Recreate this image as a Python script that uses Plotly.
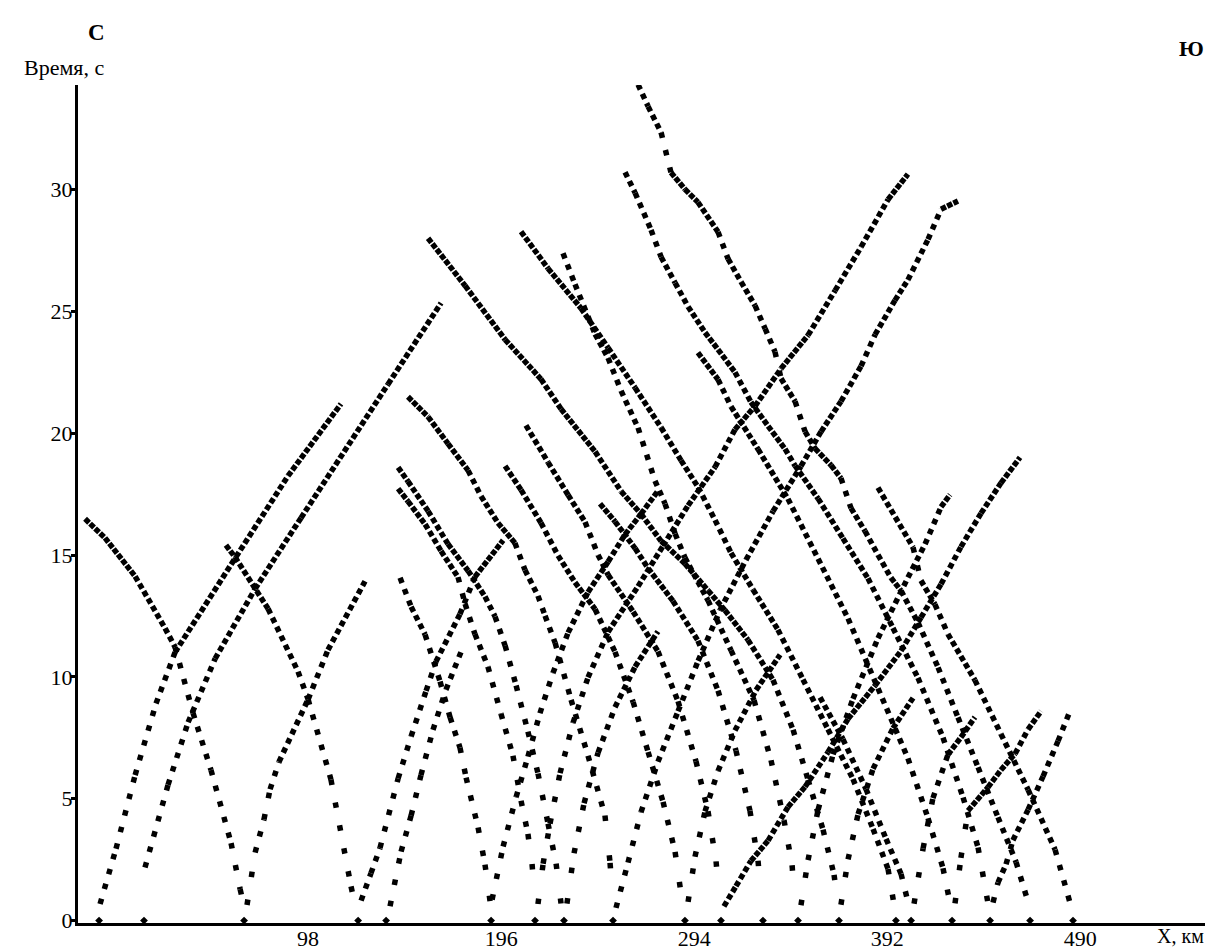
import math
import plotly.graph_objects as go

# ---- shot points on the profile (X, km)
src_x = [-8.1, 14.7, 65.5, 123.4, 137.6, 190.9, 213.2, 227.9, 252.8, 289.3,
         307.6, 328.9, 346.7, 367.5, 396.4, 404.1, 424.9, 444.2, 464.5, 486.3]
src_y = [0.0] * len(src_x)

# ---- travel-time branches (X km, T s)
b01_x = [-15.2, -5.1, 10.2, 25.4, 30.5, 39.6, 48.7, 58.9, 63.5, 65.0]
b01_y = [16.49, 15.71, 14.13, 12.0, 11.22, 8.52, 6.18, 3.18, 1.29, 0.75]
b02_x = [-7.6, 0.5, 10.2, 20.8, 30.5, 61.4, 87.8, 114.7]
b02_y = [0.68, 2.95, 5.97, 8.91, 11.02, 14.93, 18.25, 21.21]
b03_x = [15.2, 26.9, 37.1, 50.8, 71.1, 94.4, 138.6, 165.5]
b03_y = [2.18, 5.57, 8.14, 10.75, 13.62, 16.53, 22.02, 25.35]
b04_x = [56.3, 60.9, 77.7, 92.9, 98.0, 109.6, 119.8, 121.8]
b04_y = [15.41, 14.92, 12.80, 10.22, 9.08, 5.79, 1.40, 0.66]
b05_x = [67.0, 71.1, 75.6, 78.7, 83.2, 98.0, 108.1, 126.9]
b05_y = [0.64, 2.79, 4.15, 5.39, 6.51, 9.08, 11.11, 13.93]
b06_x = [124.9, 129.9, 134.5, 143.7, 150.3, 157.9, 162.9, 175.1, 182.7, 197.0]
b06_y = [0.82, 1.94, 2.98, 5.83, 7.56, 9.43, 10.63, 12.58, 14.11, 15.61]
b07_x = [139.6, 145.2, 150.3, 155.3, 161.4, 168.0, 175.6]
b07_y = [0.59, 2.83, 4.31, 5.97, 7.83, 9.48, 11.02]
b08_x = [144.7, 150.3, 157.4, 165.0, 170.1, 175.1, 178.2, 184.3, 187.8, 190.4]
b08_y = [14.07, 12.88, 11.74, 9.81, 8.34, 7.10, 5.87, 3.82, 2.30, 0.78]
b09_x = [143.7, 148.7, 157.4, 165.5, 174.1, 177.7, 182.7, 189.3, 195.9, 202.0, 206.1, 209.6, 211.7, 213.2]
b09_y = [17.73, 17.21, 16.27, 15.17, 14.1, 13.0, 11.76, 10.42, 8.49, 6.77, 4.92, 3.56, 2.32, 0.68]
b10_x = [143.7, 148.7, 158.9, 169.0, 179.2, 187.8, 192.9, 198.0, 203.6, 209.6, 214.7, 219.8, 223.9, 226.4]
b10_y = [18.6, 18.03, 16.81, 15.46, 14.36, 13.3, 12.48, 11.29, 9.65, 7.76, 6.04, 3.98, 2.34, 0.70]
b11_x = [148.7, 158.9, 169.0, 179.2, 185.8, 194.4, 203.0, 208.1, 214.7, 218.3, 223.4, 231.5, 240.1, 248.7, 251.3, 252.8]
b11_y = [21.5, 20.68, 19.58, 18.48, 17.42, 16.32, 15.5, 14.39, 13.33, 12.51, 11.40, 9.06, 6.77, 4.31, 2.37, 0.52]
b12_x = [198.0, 206.1, 216.2, 224.9, 233.5, 243.7, 253.8, 263.0, 270.6, 278.2, 284.3, 288.3]
b12_y = [18.66, 17.68, 16.33, 14.98, 13.88, 12.78, 11.03, 8.97, 6.92, 4.87, 2.82, 0.56]
b13_x = [208.6, 219.8, 230.0, 238.6, 245.2, 250.3, 263.0, 275.6, 285.8, 294.9, 301.0, 305.1, 307.1]
b13_y = [20.33, 18.81, 17.47, 16.36, 15.01, 14.19, 12.68, 11.05, 9.0, 6.54, 4.49, 2.43, 0.58]
b14_x = [246.2, 253.8, 264.0, 270.6, 283.2, 295.9, 306.1, 315.2, 322.3, 326.4, 328.4]
b14_y = [17.11, 16.38, 15.28, 14.46, 13.12, 11.49, 9.44, 6.98, 4.51, 2.46, 0.60]
b15_x = [227.4, 233.5, 243.7, 250.3, 256.9, 265.5, 274.1, 279.2, 284.3, 289.3, 301.0, 312.7, 324.4,
         333.0, 339.6, 343.7, 345.2]
b15_y = [27.39, 26.12, 24.07, 23.09, 21.74, 20.23, 18.05, 17.11, 15.88, 14.90, 13.14, 11.09, 9.04,
         6.58, 4.12, 2.27, 0.62]
b16_x = [158.9, 177.7, 198.0, 216.2, 226.4, 243.7, 256.9, 267.0, 277.2, 289.3, 301.0, 309.6, 321.3,
         334.0, 344.2, 351.8, 359.4, 365.0, 367.0]
b16_y = [28.01, 26.06, 23.85, 22.23, 21.0, 19.25, 17.62, 16.69, 15.58, 14.65, 13.55, 12.74, 11.52,
         9.88, 7.83, 5.78, 3.73, 1.88, 0.65]
b17_x = [206.1, 219.8, 236.5, 250.3, 264.0, 277.2, 287.3, 296.0, 304.6, 312.7, 323.9, 336.5, 349.2,
         361.9, 374.6, 384.8, 392.4, 395.4]
b17_y = [28.28, 26.77, 25.14, 23.51, 21.87, 20.24, 18.89, 17.79, 16.44, 15.09, 13.58, 11.94, 9.90,
         7.85, 5.81, 3.76, 2.12, 0.68]
b18_x = [295.9, 306.1, 312.7, 326.4, 341.6, 356.9, 372.1, 387.3, 402.5, 412.7, 420.3, 423.9]
b18_y = [23.31, 22.21, 21.1, 19.35, 17.31, 14.85, 12.40, 9.53, 6.66, 4.20, 2.15, 0.71]
b19_x = [258.9, 264.0, 272.1, 277.2, 284.3, 290.9, 299.5, 306.1, 314.7, 322.8, 331.5, 340.1, 345.2,
         356.9, 369.5, 382.2, 394.9, 407.6, 420.3, 430.5, 438.1, 443.1]
b19_y = [30.72, 29.87, 28.35, 27.24, 26.18, 25.2, 24.14, 23.44, 22.51, 21.28, 20.30, 19.36, 18.67,
         17.32, 15.69, 14.05, 12.01, 9.96, 7.51, 5.05, 3.0, 0.73]
b20_x = [265.5, 270.6, 277.2, 282.2, 289.3, 295.9, 306.1, 311.2, 317.8, 324.9, 330.0, 335.0, 338.1,
         345.2, 350.3, 355.3, 363.5, 368.5, 373.6, 380.7, 387.3, 393.9, 399.0, 407.6, 417.8, 427.9,
         438.1, 448.2, 457.4, 463.5]
b20_y = [34.32, 33.42, 32.35, 30.71, 30.02, 29.49, 28.27, 27.16, 26.22, 25.24, 24.30, 23.35, 22.25,
         21.31, 20.07, 19.38, 18.69, 18.16, 16.93, 15.99, 15.01, 14.07, 13.54, 12.23, 10.39, 8.34,
         6.29, 4.24, 2.40, 0.76]
b21_x = [387.3, 405.1, 409.1, 416.2, 422.8, 436.5, 449.7, 463.5, 477.2, 485.3]
b21_y = [17.77, 15.32, 13.96, 12.98, 11.76, 9.87, 7.66, 5.37, 2.91, 0.58]
b22_x = [191.4, 197.0, 203.6, 209.6, 215.7, 222.3, 230.0, 240.1, 250.3, 258.9, 267.0, 275.6]
b22_y = [0.86, 3.04, 5.07, 6.73, 8.51, 10.16, 11.82, 13.48, 14.73, 15.85, 16.69, 17.64]
b23_x = [214.7, 217.3, 220.8, 225.9, 232.5, 240.1, 250.3, 265.5, 278.2, 290.9, 304.6, 314.7, 324.9,
         338.1, 351.8, 365.5, 378.7, 392.4, 402.5]
b23_y = [0.68, 2.33, 3.98, 6.05, 8.12, 9.98, 11.85, 13.72, 15.38, 17.04, 18.62, 20.16, 21.12,
         22.66, 24.03, 25.86, 27.65, 29.6, 30.64]
b24_x = [254.3, 260.4, 267.0, 275.6, 285.8, 296.0, 307.1, 320.3, 334.0, 348.2, 358.4, 368.5, 378.7,
         385.8, 395.9, 402.5, 412.7, 419.3, 427.9]
b24_y = [0.52, 2.38, 4.45, 6.52, 8.59, 10.66, 12.74, 14.81, 16.80, 18.65, 20.07, 21.31, 22.76,
         24.05, 25.46, 26.3, 27.96, 29.2, 29.54]
b25_x = [229.4, 233.0, 238.1, 245.2, 253.8, 264.0, 275.6]
b25_y = [0.70, 2.76, 4.82, 6.89, 8.76, 10.42, 11.87]
b26_x = [290.9, 294.4, 299.5, 306.1, 314.7, 325.4, 337.6]
b26_y = [0.77, 2.62, 4.48, 6.14, 7.80, 9.46, 10.91]
b27_x = [309.1, 315.2, 322.8, 331.5, 341.6, 350.3, 361.9, 372.1, 385.8, 399.0, 409.1, 419.3, 429.4,
         439.6, 449.7, 459.4]
b27_y = [0.58, 1.41, 2.45, 3.28, 4.66, 5.49, 6.91, 8.28, 9.65, 11.07, 12.44, 13.81, 15.34,
         16.72, 17.96, 19.01]
b28_x = [348.2, 351.8, 356.9, 364.5, 374.6, 387.3, 402.5, 411.2, 419.3, 423.9]
b28_y = [0.63, 2.48, 4.55, 6.82, 9.10, 11.59, 14.08, 15.45, 16.98, 17.48]
b29_x = [405.6, 410.2, 415.2, 422.8, 429.4, 436.5]
b29_y = [0.69, 2.96, 5.03, 6.81, 7.52, 8.35]
b30_x = [426.4, 429.4, 433.0, 443.1, 449.7, 456.9, 463.5, 470.1]
b30_y = [0.71, 2.57, 4.51, 5.47, 6.18, 6.85, 7.85, 8.60]
b31_x = [368.5, 372.1, 377.2, 384.8, 394.9, 405.1]
b31_y = [0.65, 2.51, 4.37, 6.23, 7.89, 9.14]
b32_x = [357.9, 369.5, 381.2, 391.4, 399.0, 402.5]
b32_y = [9.16, 7.45, 5.40, 3.35, 1.92, 0.77]
b33_x = [445.7, 448.2, 452.3, 455.8, 463.5, 471.1, 478.7, 484.8]
b33_y = [0.74, 1.56, 2.31, 3.30, 4.55, 5.92, 7.37, 8.61]

branches = [
    (b01_x, b01_y), (b02_x, b02_y), (b03_x, b03_y), (b04_x, b04_y), (b05_x, b05_y),
    (b06_x, b06_y), (b07_x, b07_y), (b08_x, b08_y), (b09_x, b09_y), (b10_x, b10_y),
    (b11_x, b11_y), (b12_x, b12_y), (b13_x, b13_y), (b14_x, b14_y), (b15_x, b15_y),
    (b16_x, b16_y), (b17_x, b17_y), (b18_x, b18_y), (b19_x, b19_y), (b20_x, b20_y),
    (b21_x, b21_y), (b22_x, b22_y), (b23_x, b23_y), (b24_x, b24_y), (b25_x, b25_y),
    (b26_x, b26_y), (b27_x, b27_y), (b28_x, b28_y), (b29_x, b29_y), (b30_x, b30_y),
    (b31_x, b31_y), (b32_x, b32_y), (b33_x, b33_y),
]

# ---- layout geometry (styling only)
W, H = 1217, 951
L, R, T, B = 70, 20, 77, 36
X_RANGE = [-18.8, 553.3]
Y_RANGE = [-0.1, 34.3]
px_per_x = (W - L - R) / (X_RANGE[1] - X_RANGE[0])
px_per_y = (H - T - B) / (Y_RANGE[1] - Y_RANGE[0])

SERIF = "Liberation Serif, Times New Roman, serif"
fig = go.Figure()

# dotted branches: the dot spacing follows the sampling step along X
for bx, by in branches:
    for i in range(len(bx) - 1):
        dxp = (bx[i + 1] - bx[i]) * px_per_x
        dyp = (by[i + 1] - by[i]) * px_per_y
        slope = abs(dyp) / max(abs(dxp), 1e-6)
        period = 4.3 * math.sqrt(1 + slope * slope)
        gap = max(period - 5.5, 1.4)
        fig.add_trace(go.Scatter(
            x=[bx[i], bx[i + 1]], y=[by[i], by[i + 1]], mode="lines",
            line=dict(color="black", width=5.5, dash=f"5.5px,{gap:.1f}px"),
            hoverinfo="skip", showlegend=False))

fig.add_trace(go.Scatter(
    x=src_x, y=src_y, mode="markers",
    marker=dict(symbol="diamond", size=6, color="black"),
    hoverinfo="skip", showlegend=False, cliponaxis=False))


def px_ann(text, x, y, size, bold=False):
    return dict(text=f"<b>{text}</b>" if bold else text,
                x=(x - L) / (W - L - R), y=1 - (y - T) / (H - T - B),
                xref="paper", yref="paper", xanchor="center", yanchor="middle",
                showarrow=False, font=dict(family=SERIF, size=size, color="black"))


fig.update_layout(
    width=W, height=H, margin=dict(l=L, r=R, t=T, b=B, autoexpand=False),
    paper_bgcolor="white", plot_bgcolor="white",
    font=dict(family=SERIF, size=20, color="black"),
    xaxis=dict(range=X_RANGE, showgrid=False, zeroline=False, showline=True,
               linecolor="black", linewidth=3, ticks="", automargin=False,
               tickvals=[98, 196, 294, 392, 490],
               ticktext=["98", "196", "294", "392", "490"],
               ticklabelstandoff=-6,
               tickfont=dict(family=SERIF, size=22)),
    yaxis=dict(range=Y_RANGE, showgrid=False, zeroline=False, showline=True,
               linecolor="black", linewidth=3, ticks="outside", ticklen=4,
               tickwidth=3, tickcolor="black", automargin=False,
               tickvals=[0, 5, 10, 15, 20, 25, 30],
               ticklabelstandoff=-6,
               tickfont=dict(family=SERIF, size=22)),
    annotations=[
        px_ann("С", 88, 24, 23, bold=True),
        px_ann("Время, с", 56, 59, 22),
        px_ann("Ю", 1183, 40, 22, bold=True),
        px_ann("X, км", 1172, 928, 20),
    ],
)

fig.write_html("out.html")
